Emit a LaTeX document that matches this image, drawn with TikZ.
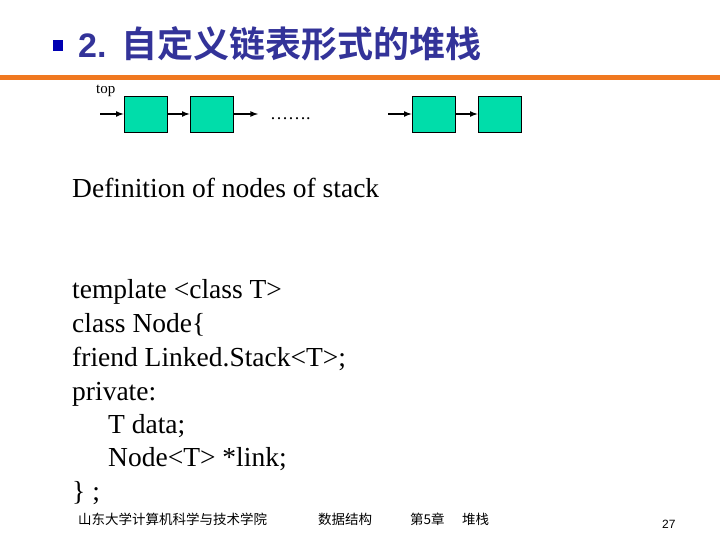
\documentclass[tikz,border=0pt]{standalone}
\usepackage{fontspec}
\setmainfont{Liberation Serif}
\newfontfamily\cjk{Noto Sans CJK SC}
\newfontfamily\cjkb{Noto Sans CJK SC Black}
\newfontfamily\arial{Liberation Sans}
\definecolor{ttl}{HTML}{333399}
\definecolor{orng}{HTML}{F07820}
\definecolor{grn}{HTML}{00DDAA}
\tikzset{cell/.style={draw=black,fill=grn,minimum width=43pt,minimum height=36pt,inner sep=0pt,line width=0.8pt},
 lnk/.style={-latex,line width=1.6pt},
 body/.style={anchor=base west,inner sep=0pt,font=\fontsize{27.5}{27.5}\selectfont},
 foot/.style={anchor=base west,inner sep=0pt,font=\cjk\fontsize{13.5}{13.5}\selectfont}}
\begin{document}
\begin{tikzpicture}[x=1pt,y=-1pt]
\useasboundingbox (0,0) rectangle (720,540);
\fill[blue!70!black] (53,40) rectangle (63,51) coordinate (sq);
\node[anchor=base west,inner sep=0pt,text=ttl,font=\arial\bfseries\fontsize{34}{34}\selectfont] (title) at (78,58) {2.~\,{\cjkb\fontsize{36}{36}\selectfont 自定义链表形式的堆栈}};
\fill[orng] (0,75) rectangle (720,80);
\node[anchor=base west,inner sep=0pt,font=\fontsize{15}{15}\selectfont] (top) at (96,94) {top};
\node[cell] (b1) at (145.5,114) {};
\node[cell] (b2) at (211.5,114) {};
\node[cell] (b3) at (433.5,114) {};
\node[cell] (b4) at (499.5,114) {};
\coordinate (s1) at (100,114);
\coordinate (e2) at (258,114);
\coordinate (s3) at (388,114);
\draw[lnk] (s1) -- (b1.west);
\draw[lnk] (b1.east) -- (b2.west);
\draw[lnk] (b2.east) -- (e2);
\draw[lnk] (s3) -- (b3.west);
\draw[lnk] (b3.east) -- (b4.west);
\node[anchor=base west,inner sep=0pt,font=\fontsize{18}{18}\selectfont] (dots) at (270,120) {…….};
\node[body] (d) at (72,198) {Definition of nodes of stack};
\node[body] (l1) at (72,298) {template <class T>};
\node[body] (l2) at (72,332) {class Node\{};
\node[body] (l3) at (72,366) {friend Linked.Stack<T>;};
\node[body] (l4) at (72,400) {private:};
\node[body] (l5) at (108,433) {T data;};
\node[body] (l6) at (108,466) {Node<T> *link;};
\node[body] (l7) at (72,500) {\}~;};
\node[foot] (f1) at (78,524) {山东大学计算机科学与技术学院};
\node[foot] (f2) at (318,524) {数据结构};
\node[foot] (f3) at (410,524) {第5章};
\node[foot] (f4) at (462,524) {堆栈};
\node[anchor=base west,inner sep=0pt,font=\arial\fontsize{12}{12}\selectfont] (pg) at (662,528) {27};
\end{tikzpicture}
\end{document}
